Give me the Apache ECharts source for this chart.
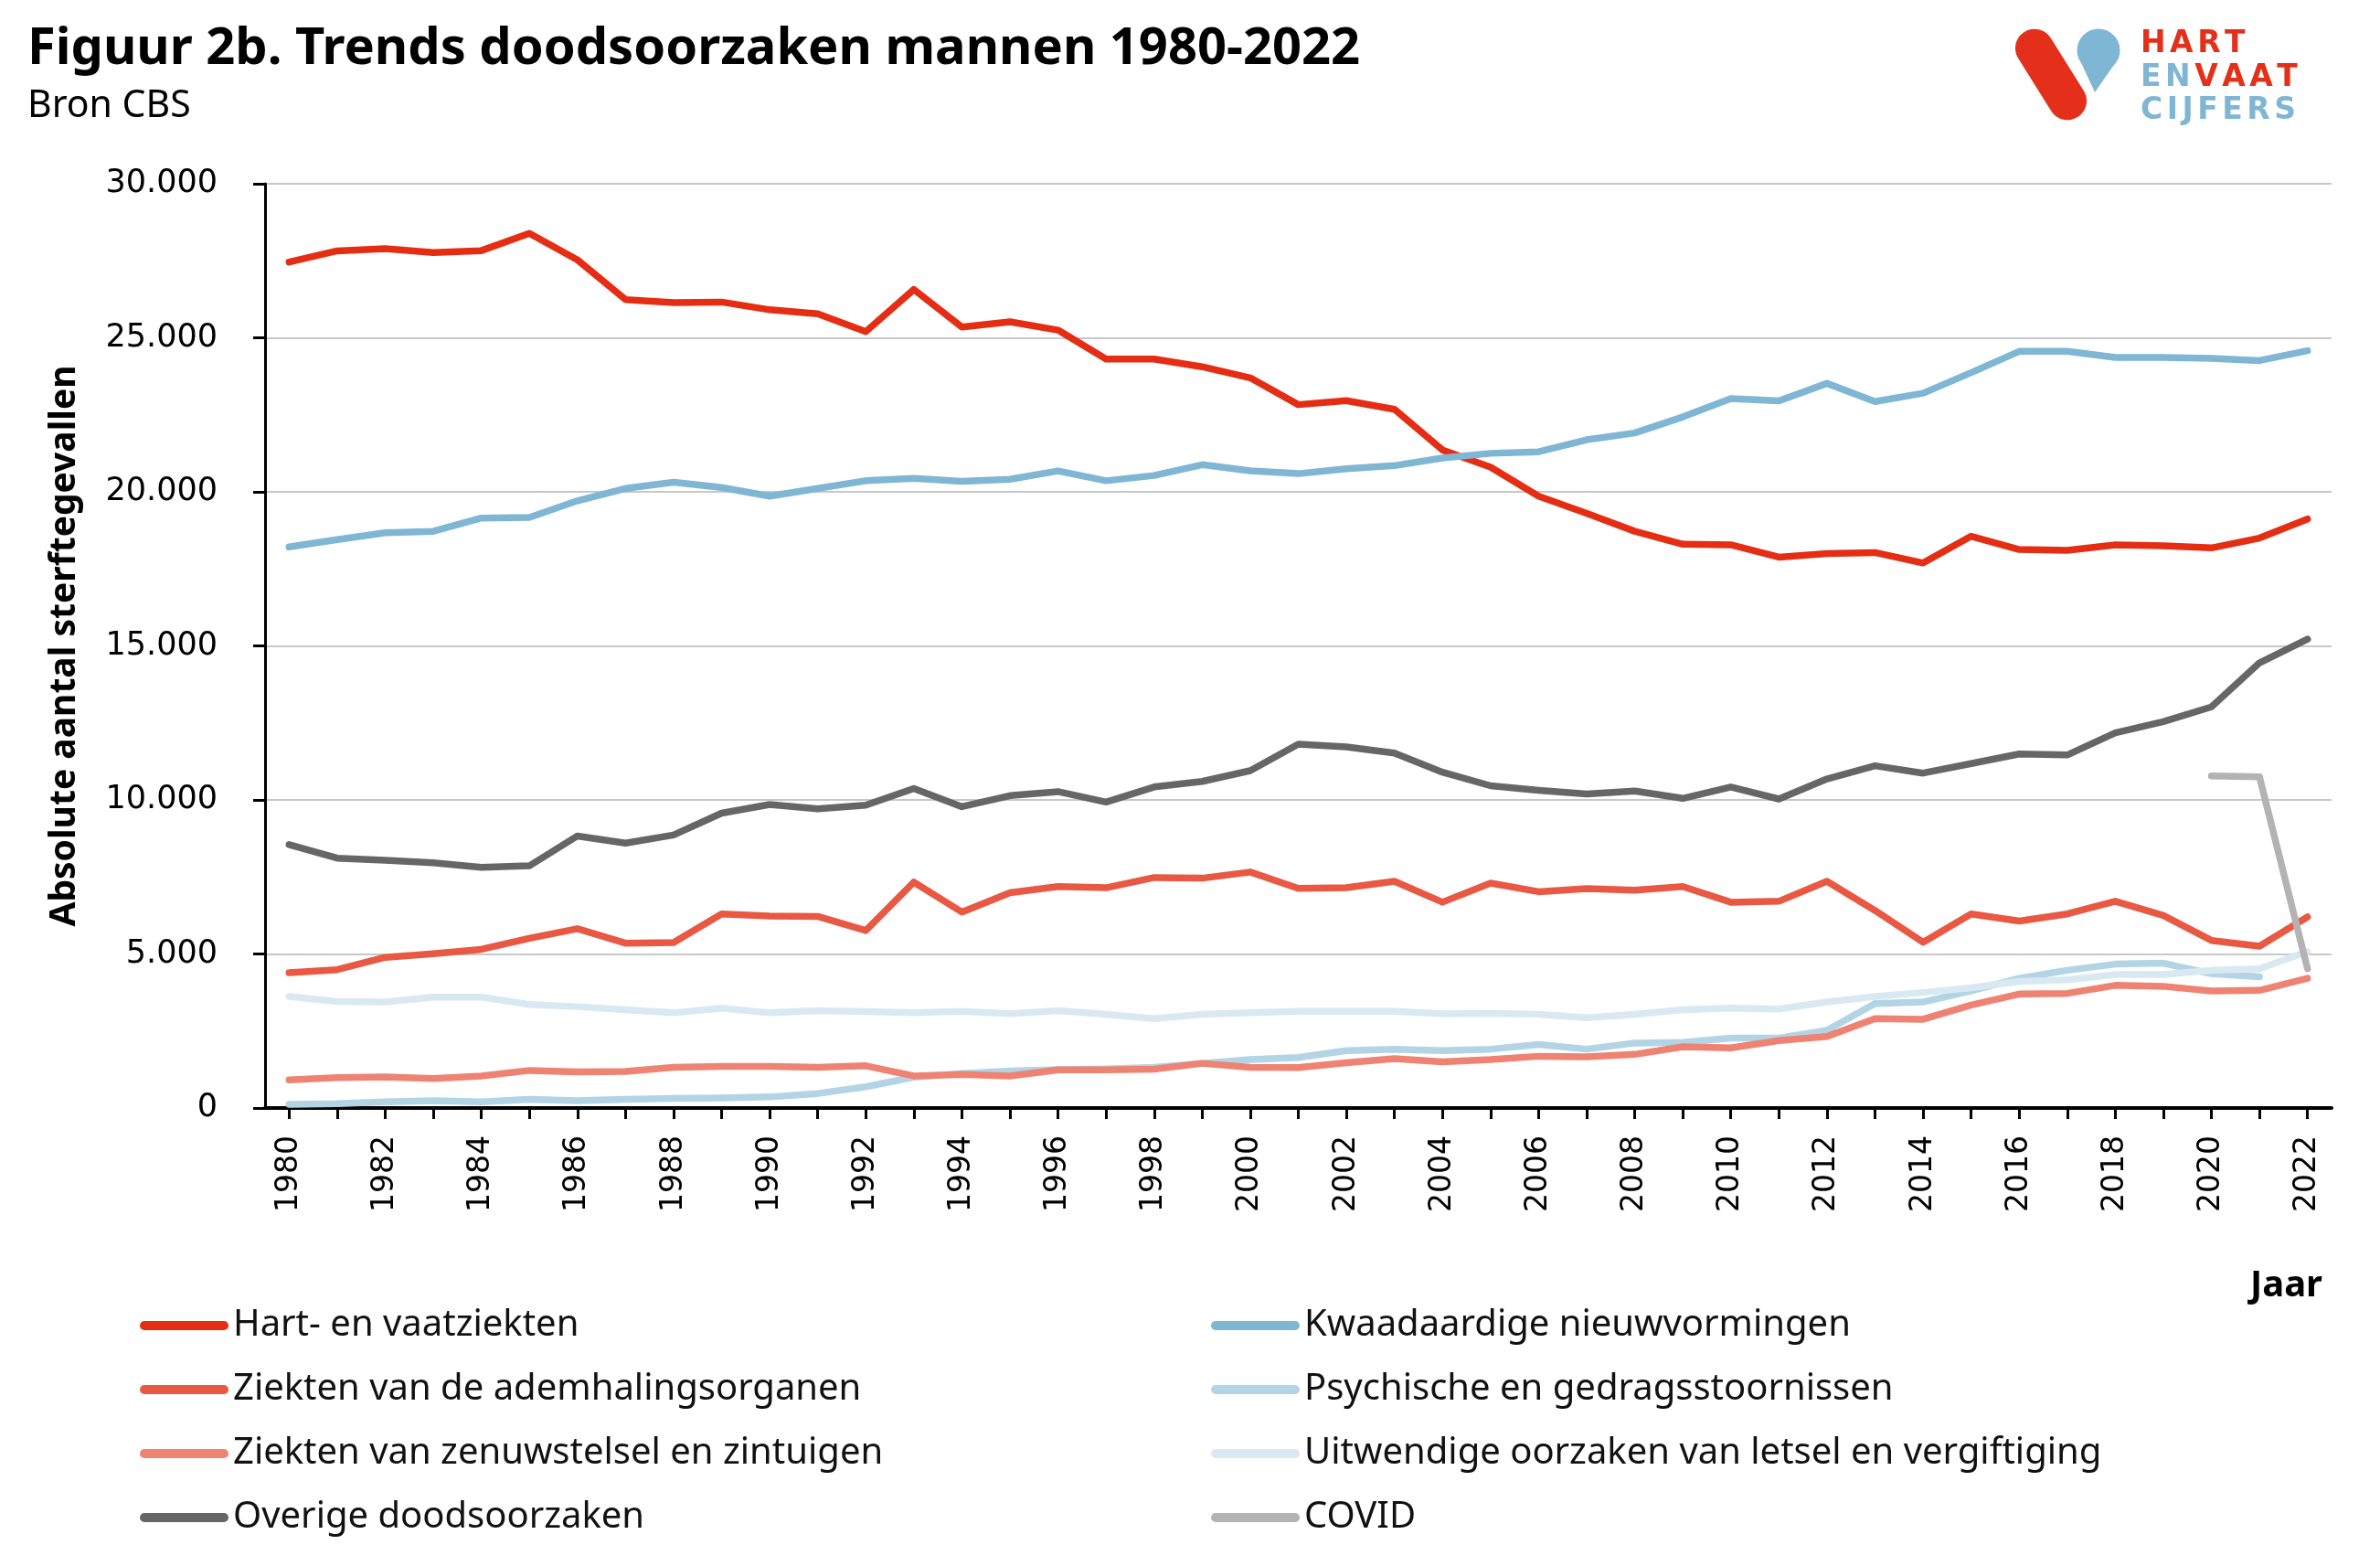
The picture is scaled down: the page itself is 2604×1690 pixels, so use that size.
<!DOCTYPE html>
<html>
<head>
<meta charset="utf-8">
<script src="https://cdn.jsdelivr.net/npm/echarts@6/dist/echarts.min.js"></script>
<style>
html,body{margin:0;padding:0;background:#fff;}
#chart{width:2604px;height:1690px;}
</style>
</head>
<body>
<div id="chart"></div>
<script>
var years = ['1980','1981','1982','1983','1984','1985','1986','1987','1988','1989',
  '1990','1991','1992','1993','1994','1995','1996','1997','1998','1999',
  '2000','2001','2002','2003','2004','2005','2006','2007','2008','2009',
  '2010','2011','2012','2013','2014','2015','2016','2017','2018','2019',
  '2020','2021','2022'];

var hartVaat = [27460,27820,27890,27770,27830,28390,27530,26240,26140,26160,
  25910,25780,25200,26570,25350,25520,25250,24310,24310,24060,
  23700,22830,22960,22680,21360,20800,19860,19300,18720,18300,
  18280,17880,18000,18030,17690,18560,18130,18100,18280,18250,
  18180,18500,19120];
var kwaadaardig = [18210,18450,18670,18720,19150,19170,19710,20110,20310,20140,
  19860,20110,20360,20440,20340,20410,20680,20360,20530,20880,
  20680,20590,20750,20850,21100,21250,21300,21690,21910,22430,
  23030,22950,23520,22930,23200,23870,24560,24560,24360,24360,
  24330,24260,24580];
var ademhaling = [4390,4490,4890,5010,5150,5510,5820,5350,5370,6300,
  6230,6220,5760,7330,6360,6990,7190,7150,7480,7460,
  7660,7130,7150,7360,6680,7300,7020,7120,7070,7190,
  6680,6710,7360,6410,5380,6300,6070,6300,6710,6250,
  5440,5250,6200];
var psychisch = [120,140,200,240,200,280,240,280,310,330,
  360,470,690,1000,1120,1200,1250,1270,1320,1450,
  1570,1640,1860,1910,1860,1910,2060,1910,2110,2130,
  2270,2270,2520,3390,3440,3800,4210,4470,4670,4700,
  4360,4260,null];
var zenuwstelsel = [910,990,1010,960,1040,1220,1170,1190,1320,1350,
  1350,1320,1370,1040,1090,1040,1240,1240,1260,1450,
  1320,1310,1470,1600,1500,1570,1680,1660,1740,1990,
  1950,2190,2320,2900,2880,3340,3700,3720,3980,3950,
  3800,3820,4210];
var uitwendig = [3620,3460,3440,3600,3600,3360,3290,3190,3090,3240,
  3090,3160,3130,3090,3140,3060,3160,3040,2900,3040,
  3090,3140,3140,3140,3060,3070,3040,2930,3040,3190,
  3240,3210,3440,3620,3750,3900,4110,4160,4330,4330,
  4470,4520,5080];
var overige = [8550,8110,8040,7960,7810,7860,8830,8600,8860,9570,
  9850,9710,9830,10370,9780,10140,10270,9930,10420,10600,
  10950,11810,11720,11520,10900,10460,10310,10190,10290,10050,
  10420,10030,10680,11110,10870,11180,11490,11460,12180,12540,
  13020,14450,15220];
var covid = [null,null,null,null,null,null,null,null,null,null,
  null,null,null,null,null,null,null,null,null,null,
  null,null,null,null,null,null,null,null,null,null,
  null,null,null,null,null,null,null,null,null,null,
  10780,10750,4520];

var seriesNames = ['Hart- en vaatziekten','Kwaadaardige nieuwvormingen','Ziekten van de ademhalingsorganen',
  'Psychische en gedragsstoornissen','Ziekten van zenuwstelsel en zintuigen',
  'Uitwendige oorzaken van letsel en vergiftiging','Overige doodsoorzaken','COVID'];
var seriesData = [hartVaat, kwaadaardig, ademhaling, psychisch, zenuwstelsel, uitwendig, overige, covid];
var colors = ['#e52d14','#7fb6d3','#e85843','#b3d4e5','#ef8373','#d8e9f2','#666666','#b3b3b3'];

var FONT = '"Noto Sans", "Open Sans", sans-serif';
var NUMFONT = '"DejaVu Sans", sans-serif';
var LOGOFONT = '"DejaVu Sans", sans-serif';

var chart = echarts.init(document.getElementById('chart'), null, {renderer:'canvas'});

var series = seriesNames.map(function(n, i){
  return {
    name: n, type: 'line', data: seriesData[i], symbol: 'none', showSymbol: false,
    connectNulls: false, animation: false,
    lineStyle: {color: colors[i], width: 7.5, cap: 'round', join: 'round'},
    itemStyle: {color: colors[i]},
    emphasis: {disabled: true}
  };
});

var legendIcon = 'path://M5,0 L91,0 A5,5 0 0 1 91,10 L5,10 A5,5 0 0 1 5,0 Z';
function legendCfg(names, left){
  return {
    orient: 'vertical', left: left, top: 1430, padding: 0,
    itemWidth: 97, itemHeight: 11, itemGap: 30,
    icon: legendIcon,
    data: names,
    selectedMode: false,
    textStyle: {fontFamily: FONT, fontSize: 40, color: '#111', lineHeight: 40, padding: [0,0,0,0]}
  };
}

function spaced(word, key){
  return word.split('').map(function(c){ return '{' + key + '|' + c + '}'; }).join('');
}
var logoRich = {
  r: {fill: '#e4301a', fontFamily: LOGOFONT, fontSize: 33, fontWeight: 'bold', padding: [0, 4.5, 0, 0]},
  b: {fill: '#7fb6d3', fontFamily: LOGOFONT, fontSize: 33, fontWeight: 'bold', padding: [0, 4.5, 0, 0]}
};

var option = {
  backgroundColor: '#ffffff',
  animation: false,
  color: colors,
  grid: {left: 290, right: 53, top: 201, bottom: 478, containLabel: false},
  legend: [
    legendCfg(['Hart- en vaatziekten','Ziekten van de ademhalingsorganen','Ziekten van zenuwstelsel en zintuigen','Overige doodsoorzaken'], 153),
    legendCfg(['Kwaadaardige nieuwvormingen','Psychische en gedragsstoornissen','Uitwendige oorzaken van letsel en vergiftiging','COVID'], 1325)
  ],
  xAxis: {
    type: 'category', data: years, boundaryGap: true,
    axisLine: {show: true, lineStyle: {color: '#000', width: 4}},
    axisTick: {show: true, interval: 0, alignWithLabel: true, length: 12, lineStyle: {color: '#000', width: 3}},
    axisLabel: {interval: 1, rotate: 90, margin: 30, fontFamily: NUMFONT, fontSize: 33, color: '#000'},
    splitLine: {show: false}
  },
  yAxis: {
    type: 'value', min: 0, max: 30000, interval: 5000,
    name: 'Absolute aantal sterftegevallen', nameLocation: 'middle', nameGap: 200, nameRotate: 90,
    nameTextStyle: {fontFamily: FONT, fontSize: 39, fontWeight: 'bold', color: '#000'},
    axisLine: {show: true, lineStyle: {color: '#000', width: 3}},
    axisTick: {show: true, length: 13, lineStyle: {color: '#000', width: 3}},
    axisLabel: {margin: 52, fontFamily: NUMFONT, fontSize: 35, color: '#000',
      formatter: function(v){ return v === 0 ? '0' : (v/1000) + '.000'; }},
    splitLine: {show: true, lineStyle: {color: '#c8c8c8', width: 2}}
  },
  series: series,
  graphic: [
    {type: 'text', left: 30, top: 26, style: {text: 'Figuur 2b. Trends doodsoorzaken mannen 1980-2022', fontFamily: FONT, fontSize: 56, fontWeight: 'bold', fill: '#000'}},
    {type: 'text', left: 30, top: 96, style: {text: 'Bron CBS', fontFamily: FONT, fontSize: 41, fill: '#000'}},
    {type: 'text', right: 63, top: 1387, style: {text: 'Jaar', fontFamily: FONT, fontSize: 40, fontWeight: 'bold', fill: '#000'}},
    {type: 'rect', x: 2244, y: 81.5, rotation: 0.56, shape: {x: -21, y: -55, width: 42, height: 110, r: 21}, style: {fill: '#e4301a'}},
    {type: 'circle', shape: {cx: 2296, cy: 55, r: 23.5}, style: {fill: '#7fb6d3'}},
    {type: 'polygon', shape: {points: [[2275.2,64.7],[2296,55],[2314.8,68.2],[2292,101]]}, style: {fill: '#7fb6d3'}},
    {type: 'text', x: 2342, y: 32, style: {text: spaced('HART', 'r'), rich: logoRich}},
    {type: 'text', x: 2342, y: 69, style: {text: spaced('EN', 'b') + spaced('VAAT', 'r'), rich: logoRich}},
    {type: 'text', x: 2342, y: 105, style: {text: spaced('CIJFERS', 'b'), rich: logoRich}}
  ]
};
chart.setOption(option);
</script>
</body>
</html>
